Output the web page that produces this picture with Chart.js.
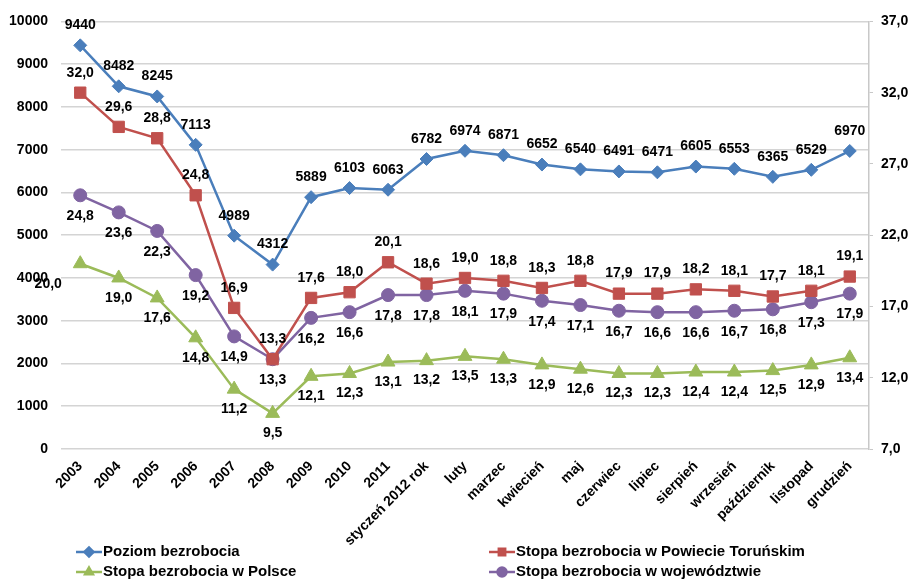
<!DOCTYPE html>
<html>
<head>
<meta charset="utf-8">
<script src="https://cdn.jsdelivr.net/npm/chart.js@4.4.1/dist/chart.umd.min.js"></script>
<style>
  html, body { margin: 0; padding: 0; background: #fff; }
  #wrap { width: 912px; height: 579px; position: relative; }
</style>
</head>
<body>
<div id="wrap"><canvas id="chart"></canvas></div>
<script>
// categories and series
const categories = ['2003', '2004', '2005', '2006', '2007', '2008', '2009', '2010', '2011',
  'styczeń 2012 rok', 'luty', 'marzec', 'kwiecień', 'maj', 'czerwiec', 'lipiec',
  'sierpień', 'wrzesień', 'październik', 'listopad', 'grudzień'];

const poziom = [9440, 8482, 8245, 7113, 4989, 4312, 5889, 6103, 6063, 6782, 6974,
  6871, 6652, 6540, 6491, 6471, 6605, 6553, 6365, 6529, 6970];
const stopaPowiat = [32.0, 29.6, 28.8, 24.8, 16.9, 13.3, 17.6, 18.0, 20.1, 18.6, 19.0,
  18.8, 18.3, 18.8, 17.9, 17.9, 18.2, 18.1, 17.7, 18.1, 19.1];
const stopaPolska = [20.0, 19.0, 17.6, 14.8, 11.2, 9.5, 12.1, 12.3, 13.1, 13.2, 13.5,
  13.3, 12.9, 12.6, 12.3, 12.3, 12.4, 12.4, 12.5, 12.9, 13.4];
const stopaWoj = [24.8, 23.6, 22.3, 19.2, 14.9, 13.3, 16.2, 16.6, 17.8, 17.8, 18.1,
  17.9, 17.4, 17.1, 16.7, 16.6, 16.6, 16.7, 16.8, 17.3, 17.9];

const leftTicks = { min: 0, max: 10000, step: 1000 };
const rightTicks = { min: 7, max: 37, step: 5 };

const FONT = '"Liberation Sans", Arial, sans-serif';
const fmtComma = (v) => v.toFixed(1).replace('.', ',');

// draws the number next to every point
const valueLabels = {
  id: 'valueLabels',
  afterDatasetsDraw(chart) {
    const ctx = chart.ctx;
    ctx.save();
    ctx.font = 'bold 14px ' + FONT;
    ctx.fillStyle = '#000';
    ctx.textAlign = 'center';
    ctx.textBaseline = 'middle';
    chart.data.datasets.forEach((ds, i) => {
      const meta = chart.getDatasetMeta(i);
      meta.data.forEach((pt, j) => {
        const v = ds.data[j];
        const txt = ds.yAxisID === 'y1' ? fmtComma(v) : String(v);
        const shift = (ds.labelShift && ds.labelShift[j]) || [0, 0];
        ctx.fillText(txt, pt.x + shift[0], pt.y + ds.labelDy + shift[1]);
      });
    });
    ctx.restore();
  }
};

// two-column legend under the axis labels
const bottomLegend = {
  id: 'bottomLegend',
  afterDraw(chart) {
    const ctx = chart.ctx;
    const spots = [[76, 552], [489, 552], [76, 572], [489, 572]];
    ctx.save();
    ctx.font = 'bold 15px ' + FONT;
    ctx.textBaseline = 'middle';
    chart.data.datasets.forEach((ds, i) => {
      const [x, y] = spots[i];
      ctx.strokeStyle = ds.borderColor;
      ctx.lineWidth = 2.5;
      ctx.beginPath();
      ctx.moveTo(x, y);
      ctx.lineTo(x + 26, y);
      ctx.stroke();
      ctx.fillStyle = ds.borderColor;
      Chart.helpers.drawPoint(ctx, {
        pointStyle: ds.pointStyle, radius: 4.5, borderWidth: 1, rotation: 0
      }, x + 13, y);
      ctx.fill();
      ctx.fillStyle = '#000';
      ctx.fillText(ds.label, x + 27, y);
    });
    ctx.restore();
  }
};

new Chart(document.getElementById('chart'), {
  type: 'line',
  data: {
    labels: categories,
    datasets: [
      {
        label: 'Poziom bezrobocia',
        data: poziom,
        yAxisID: 'y',
        borderColor: '#4A7EBB',
        backgroundColor: '#4A7EBB',
        pointStyle: 'rectRot',
        pointRadius: 6.5,
        labelDy: -20
      },
      {
        label: 'Stopa bezrobocia w Powiecie Toruńskim',
        data: stopaPowiat,
        yAxisID: 'y1',
        borderColor: '#C0504D',
        backgroundColor: '#C0504D',
        pointStyle: 'rect',
        pointRadius: 8,
        labelDy: -20
      },
      {
        label: 'Stopa bezrobocia w Polsce',
        data: stopaPolska,
        yAxisID: 'y1',
        borderColor: '#9BBB59',
        backgroundColor: '#9BBB59',
        pointStyle: 'triangle',
        pointRadius: 8,
        labelDy: 20,
        labelShift: { 0: [-32, 0] }
      },
      {
        label: 'Stopa bezrobocia w województwie',
        data: stopaWoj,
        yAxisID: 'y1',
        borderColor: '#8064A2',
        backgroundColor: '#8064A2',
        pointStyle: 'circle',
        pointRadius: 6.5,
        labelDy: 21
      }
    ]
  },
  options: {
    responsive: true,
    maintainAspectRatio: false,
    animation: false,
    layout: { padding: { top: 20, bottom: 28, left: 0, right: 0 } },
    elements: {
      line: { borderWidth: 2.5, tension: 0 },
      point: { borderWidth: 1 }
    },
    plugins: {
      legend: { display: false },
      tooltip: { enabled: false }
    },
    scales: {
      x: {
        offset: true,
        grid: { display: false },
        border: { display: false },
        ticks: {
          color: '#000',
          font: { family: FONT, size: 14, weight: 'bold' },
          minRotation: 45,
          maxRotation: 45,
          autoSkip: false,
          padding: 1
        },
        afterFit: (s) => { s.height = 102; }
      },
      y: {
        position: 'left',
        min: leftTicks.min,
        max: leftTicks.max,
        border: { display: false },
        grid: { color: '#d4d4d4', lineWidth: 1.5, drawTicks: false },
        ticks: {
          stepSize: leftTicks.step,
          color: '#000',
          padding: 13,
          font: { family: FONT, size: 14, weight: 'bold' },
          callback: (v) => String(v)
        },
        afterFit: (s) => { s.width = 61; }
      },
      y1: {
        position: 'right',
        min: rightTicks.min,
        max: rightTicks.max,
        border: { display: true, color: '#c8c8c8', width: 1.5 },
        grid: { drawOnChartArea: false, color: '#c8c8c8', tickLength: 4 },
        ticks: {
          stepSize: rightTicks.step,
          color: '#000',
          padding: 8,
          font: { family: FONT, size: 14, weight: 'bold' },
          callback: (v) => fmtComma(v)
        },
        afterFit: (s) => { s.width = 43; }
      }
    }
  },
  plugins: [valueLabels, bottomLegend]
});
</script>
</body>
</html>
